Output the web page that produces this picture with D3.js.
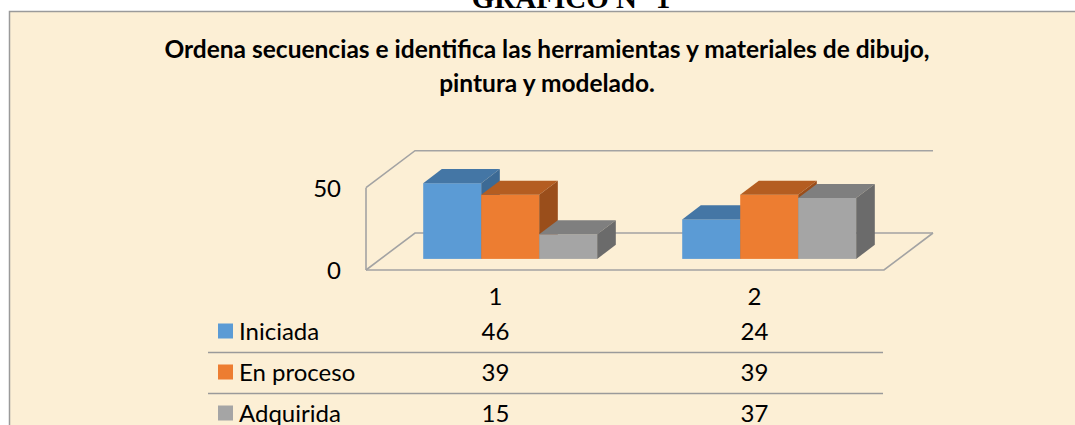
<!doctype html>
<html lang="es">
<head>
<meta charset="utf-8">
<title>Gráfico N° 1</title>
<script src="https://cdn.jsdelivr.net/npm/d3@7"></script>
<style>
  html, body { margin: 0; padding: 0; background: #fff; }
  svg { display: block; }
  text { font-family: Lato, "Open Sans", sans-serif; fill: #000; }
</style>
</head>
<body>
<svg id="chart"></svg>
<script>
  var categories = ["1", "2"];
  var seriesNames = ["Iniciada", "En proceso", "Adquirida"];
  var iniciada = [46, 24];
  var enProceso = [39, 39];
  var adquirida = [15, 37];
  var yTicks = [0, 50];
  var titleLines = ["Ordena secuencias e identifica las herramientas y materiales de dibujo,", "pintura y modelado."];

  var seriesValues = [iniciada, enProceso, adquirida];
  var colors = [
    {front: "#5b9bd5", top: "#4476a5", side: "#3c6a95"},
    {front: "#ed7d31", top: "#b45d21", side: "#9a4e1b"},
    {front: "#a5a5a5", top: "#7f7f7f", side: "#6b6b6b"}
  ];

  var W = 1075, H = 425;
  var svg = d3.select("#chart").attr("width", W).attr("height", H);

  // page heading, cut by the top edge like the scan
  svg.append("text")
    .attr("x", 571).attr("y", 8)
    .attr("text-anchor", "middle")
    .style("font-family", "'Liberation Serif', serif")
    .style("font-weight", "bold")
    .style("font-size", "29px")
    .text("GRÁFICO N° 1");

  // chart box
  svg.append("rect")
    .attr("x", 9.5).attr("y", 11.5)
    .attr("width", W).attr("height", H)
    .attr("fill", "#fcefd5")
    .attr("stroke", "#9a9a9a").attr("stroke-width", 1.5);

  // title
  svg.append("g").selectAll("text")
    .data(titleLines)
    .enter().append("text")
    .attr("x", 547)
    .attr("y", function(d, i) { return 58 + i * 34; })
    .attr("text-anchor", "middle")
    .style("font-weight", "bold")
    .style("font-size", "24.5px")
    .text(function(d) { return d; });

  // 3d geometry
  var depthX = 49, depthY = -37;
  var f0 = 0.3, f1 = 0.68;   // bar front / back depth

  var x = d3.scaleBand().domain(categories).range([366, 884]);
  var xs = d3.scaleBand().domain(seriesNames).range([0, x.bandwidth()]).paddingOuter(0.733);
  var y = d3.scaleLinear().domain([0, 50]).range([270, 187.7]);

  var grid = svg.append("g")
    .attr("fill", "none").attr("stroke", "#a3a3a3").attr("stroke-width", 1.6);

  yTicks.forEach(function(t) {
    grid.append("path").attr("d", d3.line()([
      [x.range()[0], y(t)],
      [x.range()[0] + depthX, y(t) + depthY],
      [x.range()[1] + depthX, y(t) + depthY]
    ]));
  });
  // floor front + right edge, left axis line
  grid.append("path").attr("d", d3.line()([
    [x.range()[0], y(0)], [x.range()[1], y(0)], [x.range()[1] + depthX, y(0) + depthY]
  ]));
  grid.append("path").attr("d", d3.line()([
    [x.range()[0], y(yTicks[yTicks.length - 1])], [x.range()[0], y(0)]
  ]));

  // y tick labels
  svg.append("g").selectAll("text")
    .data(yTicks)
    .enter().append("text")
    .attr("x", 341)
    .attr("y", function(d) { return y(d) + 9; })
    .attr("text-anchor", "end")
    .style("font-size", "24px")
    .text(function(d) { return d; });

  // bars
  var bars = [];
  categories.forEach(function(c, ci) {
    seriesNames.forEach(function(s, si) {
      bars.push({cat: c, ser: s, si: si, v: seriesValues[si][ci]});
    });
  });

  var bx = depthX * f0, by = depthY * f0;
  var bdx = depthX * (f1 - f0), bdy = depthY * (f1 - f0);
  var barG = svg.append("g");
  bars.forEach(function(b) {
    var x0 = x(b.cat) + xs(b.ser) + bx;
    var x1 = x0 + xs.bandwidth();
    var yb = y(0) + by;
    var yt = y(b.v) + by;
    var g = barG.append("g");
    g.append("rect")
      .attr("x", x0).attr("y", yt)
      .attr("width", x1 - x0).attr("height", yb - yt)
      .attr("fill", colors[b.si].front);
    g.append("path")
      .attr("d", d3.line()([[x0, yt], [x0 + bdx, yt + bdy], [x1 + bdx, yt + bdy], [x1, yt]]) + "Z")
      .attr("fill", colors[b.si].top);
    g.append("path")
      .attr("d", d3.line()([[x1, yt], [x1 + bdx, yt + bdy], [x1 + bdx, yb + bdy], [x1, yb]]) + "Z")
      .attr("fill", colors[b.si].side);
  });

  // data table
  var rowY = d3.scaleBand().domain(seriesNames).range([311, 434]);
  var table = svg.append("g").style("font-size", "24px");

  table.selectAll(".cat")
    .data(categories)
    .enter().append("text")
    .attr("x", function(d) { return x(d) + x.bandwidth() / 2; })
    .attr("y", 305)
    .attr("text-anchor", "middle")
    .text(function(d) { return d; });

  table.selectAll(".sep")
    .data(seriesNames.slice(1))
    .enter().append("line")
    .attr("x1", 208).attr("x2", 883)
    .attr("y1", function(d) { return rowY(d) + 0.5; })
    .attr("y2", function(d) { return rowY(d) + 0.5; })
    .attr("stroke", "#9a9a9a").attr("stroke-width", 1.5);

  var rows = table.selectAll(".row")
    .data(seriesNames)
    .enter().append("g")
    .attr("transform", function(d) { return "translate(0," + (rowY(d) + rowY.bandwidth() / 2) + ")"; });

  rows.append("rect")
    .attr("x", 218).attr("y", -8)
    .attr("width", 15).attr("height", 15)
    .attr("fill", function(d, i) { return colors[i].front; });

  rows.append("text")
    .attr("x", 239).attr("y", 8)
    .text(function(d) { return d; });

  rows.selectAll(".val")
    .data(function(d, i) { return seriesValues[i]; })
    .enter().append("text")
    .attr("x", function(d, i) { return x(categories[i]) + x.bandwidth() / 2; })
    .attr("y", 8)
    .attr("text-anchor", "middle")
    .text(function(d) { return d; });
</script>
</body>
</html>
